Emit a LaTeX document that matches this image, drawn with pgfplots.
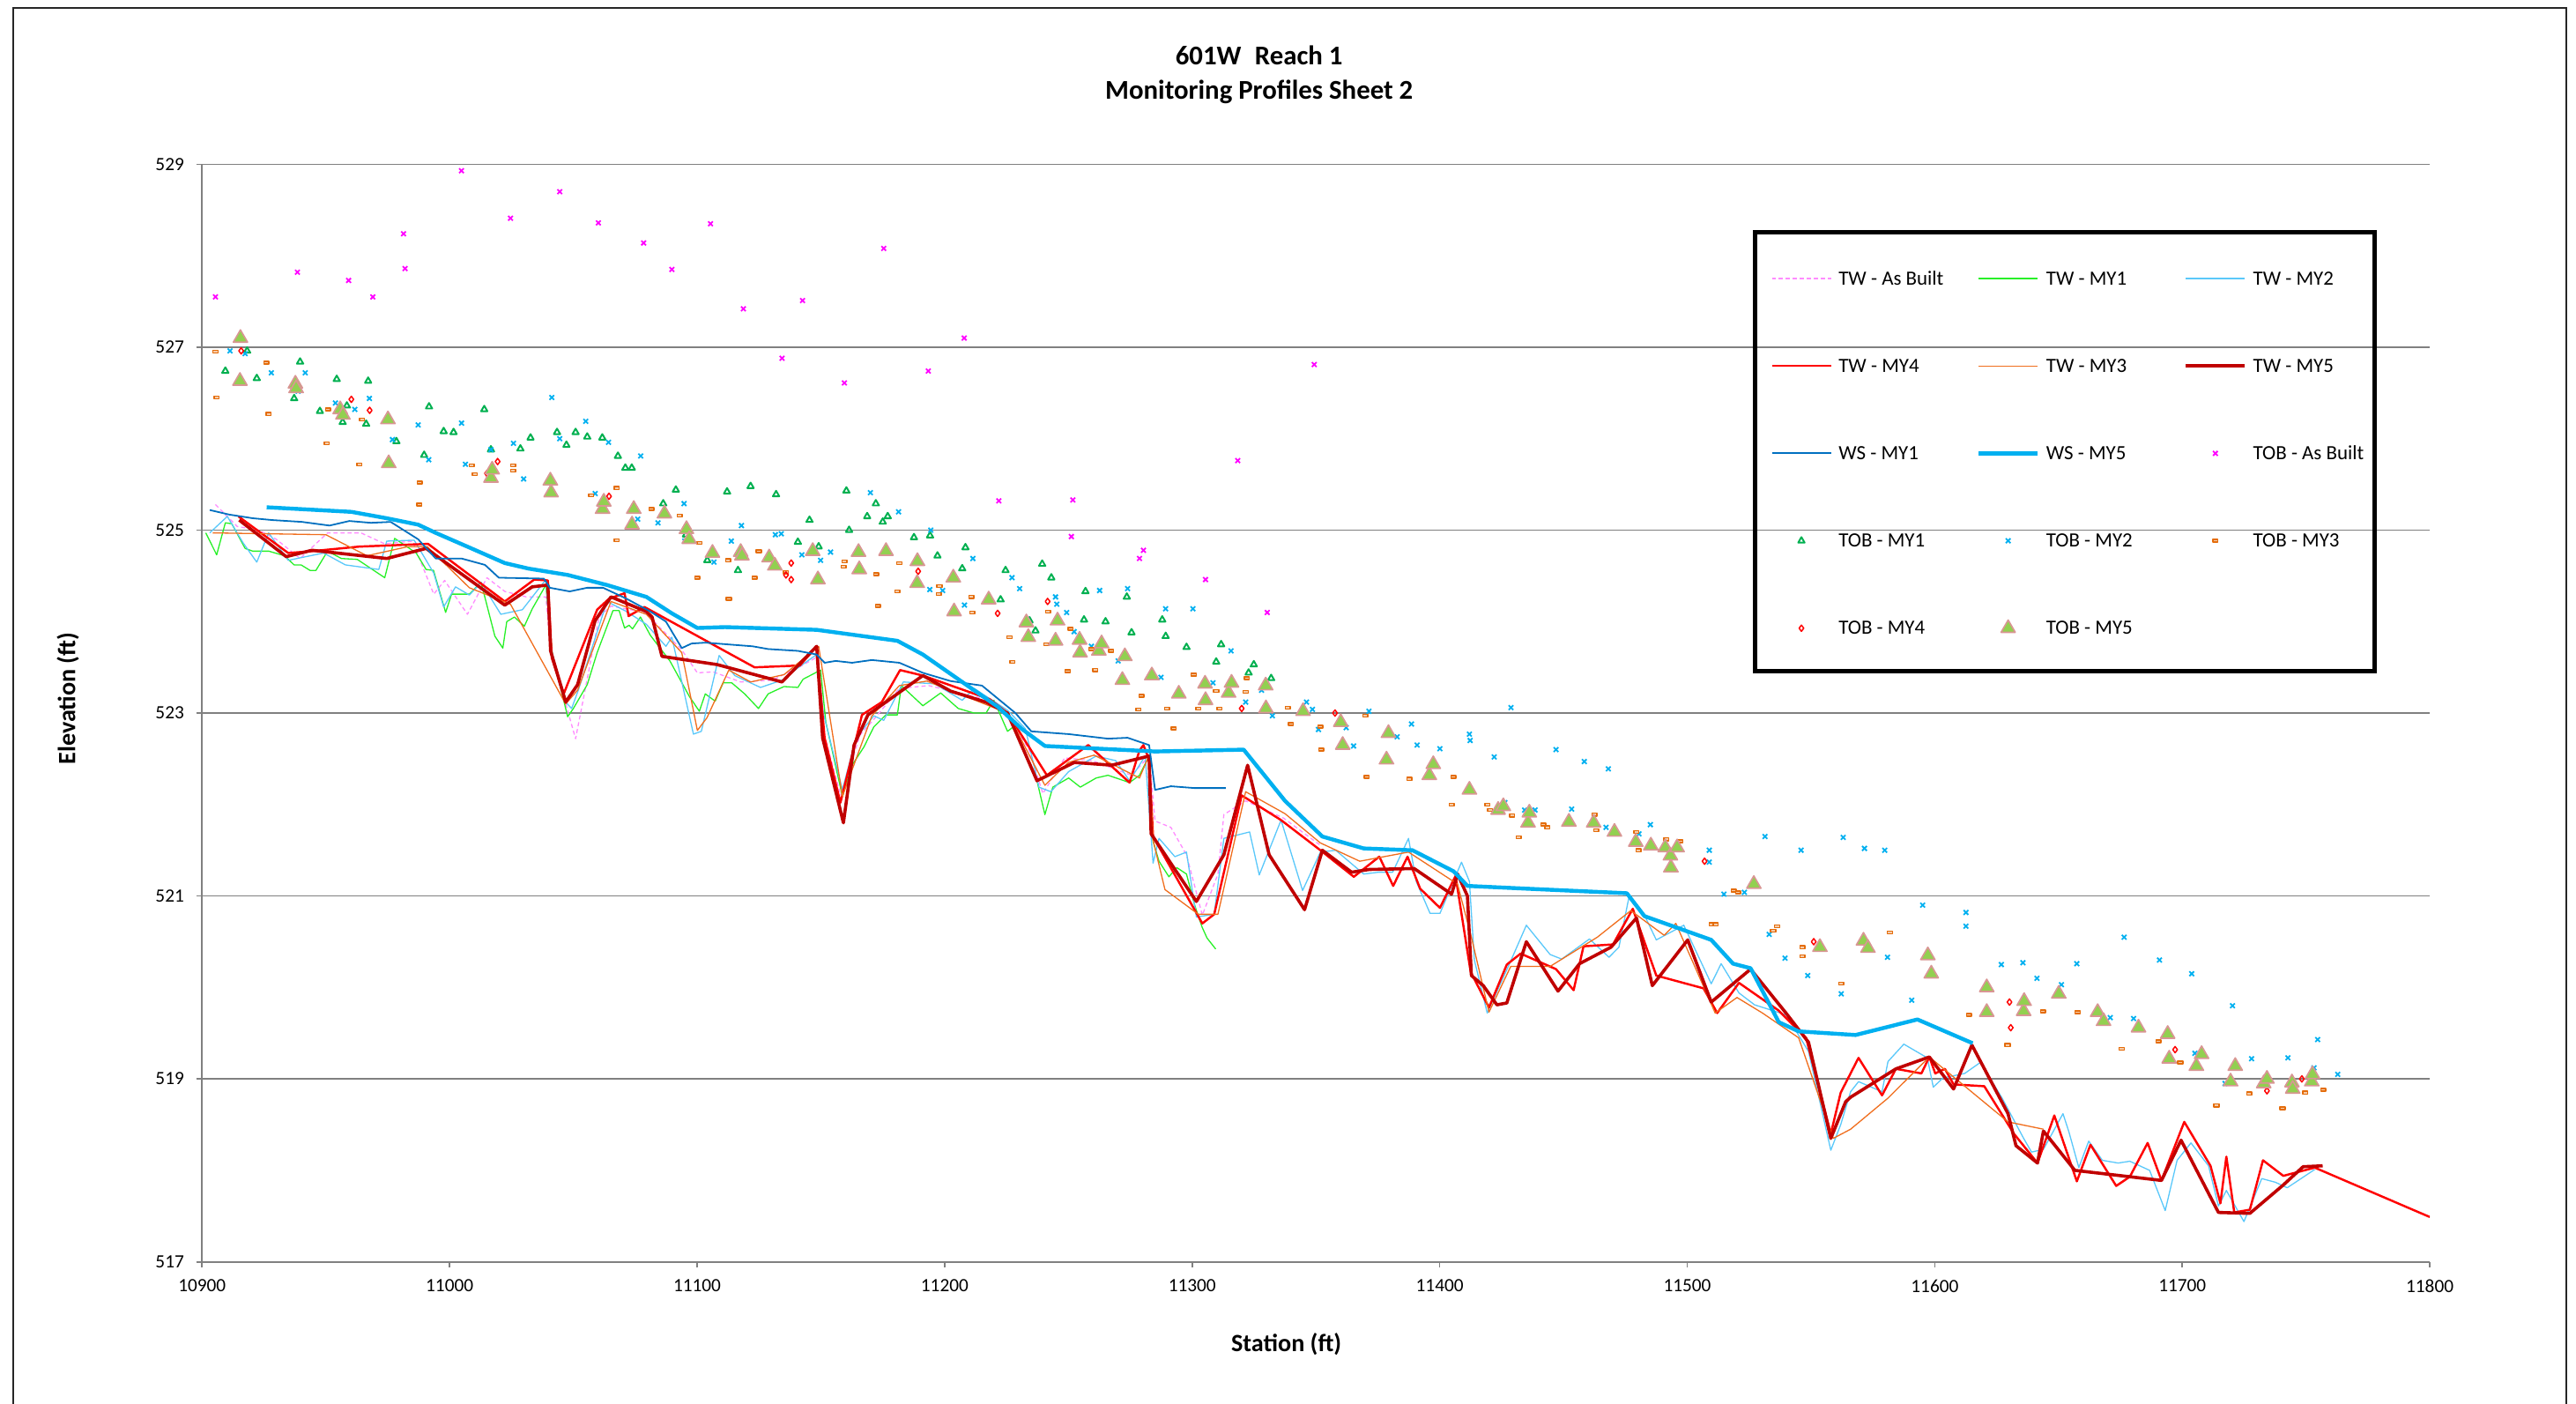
\documentclass[border=0pt]{standalone}
\usepackage{pgfplots}
\pgfplotsset{compat=1.18}
\usepackage{fontspec}
\setmainfont{Carlito}
\definecolor{cAB}{RGB}{255,140,255}
\definecolor{cMY1}{RGB}{40,240,40}
\definecolor{cMY2}{RGB}{90,200,250}
\definecolor{cMY4}{RGB}{255,0,0}
\definecolor{cMY3}{RGB}{240,110,30}
\definecolor{cMY5}{RGB}{192,0,0}
\definecolor{cWS1}{RGB}{0,112,192}
\definecolor{cWS5}{RGB}{0,176,240}
\definecolor{cTAB}{RGB}{255,0,255}
\definecolor{cT1}{RGB}{0,176,80}
\definecolor{cT2}{RGB}{0,176,240}
\definecolor{cT3}{RGB}{228,108,10}
\definecolor{cT4}{RGB}{255,0,0}
\definecolor{cT5f}{RGB}{146,208,80}
\definecolor{cT5e}{RGB}{217,150,148}
\definecolor{gridc}{RGB}{128,128,128}
\newcommand{\lgA}[1]{\makebox[16.8mm][l]{\strut #1}}
\newcommand{\lgC}[1]{\makebox[12.8mm][l]{\strut #1}}
\begin{document}
\begin{tikzpicture}
\useasboundingbox (-24.6mm,-17.2mm) rectangle (289mm,153.6mm);
\draw[black!85, line width=0.5pt] (-23mm,-20mm) rectangle (287.8mm,152.6mm);
\begin{axis}[
  at={(0,0)}, anchor=south west,
  scale only axis, width=271.2mm, height=133.6mm,
  xmin=10900, xmax=11800, ymin=517, ymax=529,
  axis x line=bottom, axis y line=left,
  axis line style={-, draw=gridc, line width=0.5pt},
  xtick={10900,11000,...,11800}, ytick={517,519,...,529},
  scaled x ticks=false, scaled y ticks=false,
  tick align=outside, major tick length=0.72mm,
  tick style={draw=gridc, line width=0.5pt},
  ymajorgrids, grid style={draw=gridc, line width=0.5pt},
  ticklabel style={font=\fontsize{6.5}{7.5}\selectfont, inner sep=0pt},
  xticklabel style={anchor=north, yshift=-1.4mm, /pgf/number format/fixed, /pgf/number format/precision=0},
  yticklabel style={anchor=east, xshift=-1.4mm},
  /pgf/number format/assume math mode=true,
  /pgf/number format/1000 sep={},
  xlabel={Station (ft)}, ylabel={Elevation (ft)},
  xlabel style={at={(axis description cs:0.48673,-0.07485)}, anchor=center, font=\bfseries\fontsize{8.6}{10}\selectfont},
  ylabel style={at={(axis description cs:-0.06025,0.5133)}, anchor=center, font=\bfseries\fontsize{8.6}{10}\selectfont},
  line join=round,
  legend columns=3,
  legend cell align=left,
  legend style={at={(axis description cs:0.7039,0.9062)}, anchor=north west, draw=none, fill=none,
    inner sep=0pt, font=\fontsize{7}{8.4}\selectfont, row sep=8.05mm,
    nodes={inner sep=0pt},
    /tikz/every odd column/.append style={column sep=0.8mm}},
  legend image code/.code={\draw[mark repeat=2,mark phase=2] plot coordinates {(0mm,0mm) (3.6mm,0mm) (7.2mm,0mm)};},
]
% TW - As Built
\addplot[cAB, line width=0.4pt, dash pattern=on 0.5mm off 0.35mm] coordinates {
(10905.4,525.28) (10914.2,525.04) (10922.9,525.00) (10930,524.90) (10939.6,524.69) (10950.7,524.97)
(10964.2,524.97) (10973.8,524.85) (10985,524.88) (10993.6,524.30) (10998,524.45) (11007.2,524.08)
(11015.1,524.48) (11022.3,524.33) (11031.0,524.27) (11038.9,524.27) (11041,523.65) (11046.9,523.10)
(11050.9,522.72) (11054.0,523.15) (11060.4,524.05) (11065.2,524.17) (11079,524.10) (11093.8,523.69)
(11100.1,523.44) (11106.5,523.45) (11117.6,523.34) (11130.3,523.36) (11141,523.50) (11148.3,523.61)
(11151,522.80) (11158,522.10) (11165.8,522.76) (11172,522.95) (11181.7,523.27) (11193.6,523.30)
(11213.5,523.17) (11225.4,523.00) (11234.2,522.59) (11239.7,522.12) (11248.5,522.51) (11259.6,522.48)
(11275.5,522.32) (11282.6,522.53) (11285.0,521.82) (11291.4,521.75) (11297.7,521.45) (11304.1,520.79)
(11310.4,521.24) (11312.8,521.89) (11321.6,522.04) (11337,521.85) (11352,521.55)
};
\addlegendentry{\lgA{TW - As Built}}
% TW - MY1
\addplot[cMY1, line width=0.4pt] coordinates {
(10901.5,524.97) (10905.9,524.73) (10909.4,525.08) (10912,525.07) (10917.4,524.80) (10920.5,524.77)
(10927,524.77) (10933.3,524.72) (10937.2,524.62) (10940,524.62) (10943.6,524.56) (10946,524.56)
(10950.7,524.77) (10956.3,524.69) (10962.7,524.68) (10973.8,524.48) (10977.8,524.91) (10986.5,524.75)
(10990.5,524.57) (10993.5,524.56) (10998.4,524.10) (11000.8,524.30) (11008,524.30) (11012.7,524.43)
(11018.3,523.84) (11021.5,523.71) (11023.1,524.00) (11026.2,524.05) (11030.2,523.95) (11033.4,524.14)
(11038.9,524.40) (11041.5,523.65) (11047.7,522.96) (11050,523.05) (11055.6,523.31) (11059.6,523.66)
(11066.0,524.12) (11068.5,524.12) (11070.7,523.93) (11072.5,523.96) (11073.9,523.92) (11077.1,524.05)
(11081.1,523.85) (11089.0,523.57) (11096.9,523.18) (11100.9,523.02) (11103.3,523.21) (11107.3,523.13)
(11110.5,523.33) (11114,523.33) (11119.2,523.21) (11124.8,523.05) (11128.7,523.21) (11135.1,523.29)
(11140.7,523.28) (11142.8,523.37) (11149.9,523.47) (11152,522.90) (11158.7,522.09) (11162.6,522.43)
(11167.4,522.63) (11171.4,522.85) (11176.2,522.98) (11180.9,522.98) (11182.5,523.30) (11191.2,523.08)
(11198.4,523.22) (11205.5,523.05) (11211.9,523.00) (11216.7,523.00) (11219.9,523.14) (11225.4,522.80)
(11227.8,522.85) (11237.3,522.26) (11240.5,521.89) (11243.7,522.19) (11250.1,522.29) (11254.8,522.19)
(11261.2,522.29) (11266,522.32) (11274.7,522.24) (11278.7,522.32) (11282.6,522.53) (11284.2,521.60)
(11286.6,521.38) (11290.6,521.21) (11293.8,521.31) (11297.7,521.24) (11301,520.90) (11304,520.66)
(11306,520.54) (11309.5,520.42)
};
\addlegendentry{\lgA{TW - MY1}}
% TW - MY2
\addplot[cMY2, line width=0.4pt] coordinates {
(10903.1,524.97) (10910.2,525.15) (10916.6,524.86) (10922.1,524.65) (10926.9,524.97) (10934.8,524.67)
(10949.1,524.75) (10957.9,524.62) (10971.4,524.57) (10974.6,524.88) (10985.7,524.89) (10993.6,524.53)
(10997.6,524.16) (11002.4,524.38) (11008.0,524.29) (11012.7,524.43) (11020.7,524.08) (11029.4,524.13)
(11038.9,524.46) (11041.0,523.70) (11046.9,523.12) (11049.3,523.05) (11052.0,523.25) (11063.6,524.22)
(11071.5,524.11) (11079.5,523.97) (11087.4,523.73) (11089.8,523.83) (11098.5,522.77) (11101.7,522.80)
(11108.9,523.63) (11115.2,523.41) (11125.6,523.28) (11134.3,523.36) (11141.0,523.50) (11148.3,523.64)
(11151.0,523.00) (11158.7,522.16) (11164.2,522.73) (11171.4,522.97) (11175.4,522.92) (11183.3,523.34)
(11196.0,523.32) (11207.1,523.14) (11211.9,523.27) (11225.4,523.03) (11232.6,522.83) (11238.1,522.19)
(11242.9,522.14) (11250.1,522.36) (11261.2,522.53) (11269.1,522.48) (11274.7,522.26) (11281.0,522.53)
(11284.2,521.36) (11286.6,521.63) (11293.0,521.43) (11297.7,521.48) (11301.7,520.77) (11308.9,520.80)
(11312.8,521.63) (11323.2,521.70) (11327.1,521.23) (11335.9,521.83) (11344.6,521.06) (11351.8,521.48)
(11358,521.50) (11369.3,521.24) (11375.4,521.26) (11381,521.26) (11387.4,521.63) (11390.5,521.16)
(11396.1,520.81) (11400.1,520.81) (11408.8,521.37) (11412.0,521.16) (11414,520.30) (11419.2,519.72)
(11428.7,520.29) (11435.0,520.68) (11444.6,520.36) (11449.3,520.31) (11460.5,520.53) (11468.4,520.33)
(11472.4,520.44) (11476.4,520.98) (11482.7,520.79) (11487.5,520.52) (11498.6,520.68) (11509.7,520.04)
(11513.7,520.26) (11520.9,519.94) (11527.2,519.81) (11540,519.70) (11549,519.30) (11558,518.22)
(11562,518.50) (11566.0,518.86) (11569.2,518.97) (11578.7,518.86) (11581.1,519.19) (11587.5,519.38)
(11597.0,519.23) (11599.4,518.91) (11603.3,519.01) (11612.1,519.06) (11618.4,519.18) (11627.2,518.79)
(11635.9,518.35) (11639.1,518.20) (11643.9,518.23) (11651.8,518.62) (11654.2,518.42) (11658.2,518.03)
(11662.2,518.32) (11667.7,518.11) (11674.1,518.08) (11678.8,518.10) (11686.8,518.00) (11693.1,517.56)
(11697.9,518.11) (11703.5,518.30) (11710.6,518.05) (11714.6,517.61) (11717.8,517.78) (11724.9,517.44)
(11732.1,517.91) (11737.6,517.87) (11742.4,517.81) (11753.5,518.01)
};
\addlegendentry{\lgC{TW - MY2}}
% TW - MY4
\addplot[cMY4, line width=0.75pt] coordinates {
(10914.7,525.15) (10934.8,524.75) (10944.4,524.77) (10963.5,524.82) (10991.3,524.85) (11022.3,524.22)
(11034.2,524.46) (11039.7,524.45) (11041.3,523.60) (11046.1,523.21) (11059.6,524.13) (11064.4,524.25)
(11070.7,524.31) (11072.3,524.06) (11078.7,524.16) (11123.2,523.50) (11141.5,523.52) (11148.3,523.73)
(11151.5,522.73) (11157.9,522.02) (11166.6,522.98) (11174.6,523.12) (11182.0,523.47) (11191.2,523.41)
(11218.3,523.15) (11225.4,523.00) (11241.3,522.32) (11258.0,522.65) (11274.7,522.24) (11278.7,522.59)
(11280.3,522.65) (11282.6,522.49) (11284.2,521.65) (11304.1,520.70) (11308.9,520.80) (11320.0,522.10)
(11335.9,521.83) (11351.8,521.50) (11365.3,521.21) (11375.6,521.43) (11381.2,521.11) (11387.0,521.43)
(11392.1,521.08) (11400.1,520.87) (11406.4,521.22) (11412.5,520.17) (11419.9,519.78) (11427.1,520.25)
(11432.7,520.37) (11447.0,520.20) (11454.1,519.97) (11458.1,520.45) (11470.0,520.47) (11478.0,520.86)
(11487.5,520.13) (11506.6,519.99) (11512.1,519.72) (11520.9,520.05) (11536.8,519.75) (11548,519.45)
(11558,518.40) (11562,518.85) (11569.2,519.23) (11578.7,518.82) (11584.3,519.11) (11594.6,519.06)
(11597.8,519.24) (11600.2,519.06) (11604.1,519.11) (11607.6,518.94) (11620.0,518.92) (11632.0,518.40)
(11641.5,518.08) (11648.3,518.60) (11657.4,517.88) (11662.9,518.28) (11673.3,517.83) (11678.8,517.93)
(11686.0,518.30) (11691.6,517.89) (11700.8,518.53) (11711.4,518.05) (11715.4,517.64) (11717.8,518.15)
(11721.0,517.54) (11727.3,517.57) (11732.6,518.11) (11740.8,517.94) (11753.5,518.03) (11800,517.49)
};
\addlegendentry{\lgA{TW - MY4}}
% TW - MY3
\addplot[cMY3, line width=0.4pt] coordinates {
(10904.3,524.97) (10950,524.95) (10966.6,524.72) (10983.3,524.82) (10991,524.82) (11008.0,524.37)
(11024.6,524.19) (11046.9,523.10) (11051.7,523.25) (11065.2,524.22) (11079.5,524.08) (11093.8,523.66)
(11100.1,522.81) (11104,522.95) (11112.8,523.47) (11121.6,523.34) (11135.1,523.42) (11149.1,523.73)
(11158.7,522.09) (11170.6,522.97) (11181.7,523.30) (11192.8,523.35) (11225.4,523.00) (11240.5,522.21)
(11250.0,522.46) (11260.4,522.54) (11278.7,522.29) (11282.6,522.54) (11284.2,521.61) (11289.0,521.07)
(11302.5,520.80) (11310.4,520.80) (11321.6,522.14) (11337.5,521.90) (11351.8,521.58) (11367.7,521.38)
(11387.4,521.48) (11407.2,521.13) (11412.8,520.55) (11419.9,519.73) (11428.7,520.23) (11444.6,520.23)
(11463.7,520.55) (11477.2,520.84) (11490.7,520.57) (11495.4,520.70) (11511.3,519.72) (11520.1,519.89)
(11530.4,519.72) (11545,519.45) (11559,518.35) (11566,518.45) (11581.1,518.79) (11597.8,519.24)
(11629.6,518.53) (11643.9,518.45)
};
\addlegendentry{\lgA{TW - MY3}}
% TW - MY5
\addplot[cMY5, line width=1.1pt] coordinates {
(10915.0,525.11) (10934.0,524.71) (10944.4,524.78) (10974.6,524.69) (10990.5,524.80) (11022.3,524.18)
(11033.4,524.38) (11039.7,524.40) (11040.8,523.68) (11046.9,523.12) (11051.7,523.31) (11058.8,524.01)
(11065.2,524.27) (11079.5,524.11) (11081.8,524.05) (11085.8,523.62) (11108.1,523.53) (11134.3,523.34)
(11148.3,523.73) (11150.7,522.73) (11159.1,521.80) (11163.4,522.65) (11169.0,522.98) (11191.2,523.41)
(11202.4,523.24) (11216.7,523.12) (11225.4,523.00) (11237.3,522.26) (11252.4,522.46) (11267.5,522.43)
(11282.6,522.53) (11283.4,521.68) (11301.7,520.94) (11312.8,521.45) (11322.4,522.43) (11331.1,521.45)
(11345.4,520.85) (11352.6,521.50) (11364.4,521.26) (11371.5,521.29) (11389.7,521.30) (11404.8,521.02)
(11407.2,521.24) (11411.2,521.00) (11412.8,520.13) (11417.6,520.02) (11423.1,519.81) (11427.1,519.83)
(11435.0,520.50) (11447.8,519.96) (11456.5,520.26) (11469.2,520.44) (11479.5,520.76) (11485.9,520.02)
(11500.2,520.52) (11509.7,519.84) (11525.6,520.20) (11539.9,519.72) (11549,519.40) (11558,518.35)
(11564,518.75) (11566,518.80) (11584.3,519.11) (11597.8,519.24) (11607.6,518.89) (11615.0,519.37)
(11629.6,518.62) (11632.8,518.27) (11641.5,518.08) (11643.9,518.43) (11656.6,518.00) (11691.6,517.89)
(11699.5,518.33) (11714.6,517.54) (11727.3,517.53) (11740.8,517.84) (11748.8,518.04) (11756.7,518.05)
};
\addlegendentry{\lgC{TW - MY5}}
% WS - MY1
\addplot[cWS1, line width=0.55pt] coordinates {
(10903.1,525.22) (10911.0,525.17) (10920.5,525.13) (10928.5,525.11) (10940.4,525.09) (10951.5,525.05)
(10959.5,525.10) (10968.2,525.08) (10976.2,525.09) (10987.3,524.90) (10994.4,524.69) (11004.8,524.69)
(11014.3,524.62) (11019.9,524.48) (11038.1,524.47) (11040.5,524.37) (11048.5,524.33) (11055.6,524.37)
(11062.0,524.37) (11071.5,524.25) (11081.1,524.11) (11087.4,524.00) (11093.8,523.71) (11097.7,523.76)
(11103.3,523.77) (11122.4,523.73) (11128.7,523.70) (11140.7,523.68) (11148.3,523.64) (11151.5,523.55)
(11156,523.57) (11162.6,523.55) (11170.6,523.58) (11181.7,523.55) (11191.2,523.44) (11202.4,523.35)
(11215.1,523.30) (11228.6,523.00) (11235.0,522.80) (11250.1,522.77) (11266.0,522.72) (11273.9,522.73)
(11282.6,522.65) (11285.0,522.16) (11291.4,522.20) (11301.0,522.18) (11313.6,522.18)
};
\addlegendentry{\lgA{WS - MY1}}
% WS - MY5
\addplot[cWS5, line width=1.35pt] coordinates {
(10926.1,525.25) (10960.3,525.20) (10974.6,525.13) (10987.3,525.06) (10994.4,524.97) (11008.0,524.81)
(11022.3,524.64) (11031.8,524.58) (11047.7,524.51) (11063.6,524.40) (11079.5,524.27) (11089.8,524.09)
(11100.1,523.93) (11111.2,523.94) (11148.3,523.91) (11180.9,523.79) (11191.2,523.64) (11205.5,523.37)
(11221.4,523.07) (11231.0,522.83) (11240.5,522.64) (11285.0,522.58) (11320.8,522.60) (11337.5,522.04)
(11352.6,521.65) (11369.3,521.52) (11389.0,521.50) (11405.6,521.27) (11411.2,521.11) (11435.0,521.08)
(11475.6,521.03) (11482.7,520.78) (11509.7,520.52) (11518.5,520.26) (11525.6,520.21) (11537,519.62)
(11545.0,519.52) (11568.0,519.48) (11593.0,519.65) (11615.3,519.39)
};
\addlegendentry{\lgA{WS - MY5}}
% TOB - As Built
\addplot[only marks, mark=x, mark size=0.4mm, mark options={cTAB, line width=0.55pt}] coordinates {
(10905.4,527.55) (10938.5,527.82) (10959.2,527.73) (10969.0,527.55) (10981.4,528.24) (10982.0,527.86)
(11004.8,528.93) (11024.6,528.41) (11044.5,528.70) (11060.1,528.36) (11078.4,528.14) (11089.8,527.85)
(11105.4,528.35) (11118.7,527.42) (11134.3,526.88) (11142.6,527.51) (11159.5,526.61) (11175.4,528.08)
(11193.4,526.74) (11207.9,527.10) (11221.9,525.32) (11251.8,525.33) (11251.2,524.93) (11280.3,524.78)
(11278.7,524.69) (11305.4,524.46) (11318.4,525.76) (11330.3,524.10) (11349.3,526.81)
};
\addlegendentry{\lgC{TOB - As Built}}
% TOB - MY1
\addplot[only marks, mark=triangle, mark size=0.45mm, mark options={cT1, line width=0.6pt}] coordinates {
(10909.4,526.74) (10918.2,526.96) (10922.1,526.66) (10937.2,526.44) (10939.6,526.84) (10947.6,526.30)
(10954.4,526.65) (10956.8,526.18) (10958.5,526.36) (10966.3,526.16) (10967.1,526.63) (10978.5,525.97)
(10989.7,525.82) (10991.7,526.35) (10997.6,526.08) (11001.6,526.07) (11014.0,526.32) (11016.7,525.88)
(11028.6,525.89) (11032.7,526.01) (11043.4,526.07) (11047.2,525.93) (11050.9,526.07) (11055.6,526.02)
(11061.7,526.01) (11068.0,525.81) (11071.0,525.68) (11073.6,525.68) (11086.3,525.29) (11091.4,525.44)
(11095.5,524.95) (11104.1,524.67) (11112.1,525.42) (11116.5,524.56) (11121.6,525.48) (11131.9,525.39)
(11140.7,524.87) (11145.4,525.11) (11149.1,524.82) (11160.3,525.43) (11161.4,525.00) (11168.7,525.15)
(11172.2,525.29) (11175.0,525.09) (11177.0,525.15) (11187.6,524.92) (11194.1,524.94) (11197.1,524.72)
(11207.1,524.58) (11208.4,524.81) (11222.6,524.24) (11224.6,524.56) (11234.3,524.01) (11236.7,523.90)
(11239.4,524.63) (11243.1,524.48) (11256.3,524.02) (11256.9,524.33) (11265.0,524.00) (11273.6,524.27)
(11275.5,523.88) (11287.9,524.02) (11289.3,523.84) (11297.7,523.72) (11309.7,523.56) (11311.7,523.75)
(11322.8,523.44) (11324.9,523.53) (11331.9,523.38)
};
\addlegendentry{\lgA{TOB - MY1}}
% TOB - MY2
\addplot[only marks, mark=x, mark size=0.4mm, mark options={cT2, line width=0.55pt}] coordinates {
(10911.3,526.96) (10917.4,526.93) (10928.0,526.72) (10938.8,526.52) (10941.7,526.72) (10953.9,526.39)
(10961.7,526.32) (10967.6,526.44) (10976.9,525.99) (10987.3,526.15) (10991.6,525.77) (11004.8,526.17)
(11006.4,525.72) (11016.7,525.88) (11025.8,525.95) (11029.9,525.56) (11041.3,526.45) (11044.5,526.00)
(11055.0,526.19) (11058.8,525.40) (11064.2,525.96) (11076.0,525.12) (11077.2,525.81) (11084.2,525.08)
(11094.7,525.29) (11095.0,524.88) (11106.8,524.65) (11113.8,524.88) (11117.9,525.05) (11131.6,524.95)
(11134.0,524.96) (11142.3,524.73) (11149.9,524.67) (11153.9,524.76) (11170.0,525.41) (11181.4,525.20)
(11194.4,525.00) (11194.0,524.35) (11199.2,524.34) (11208.0,524.18) (11211.4,524.69) (11227.2,524.48)
(11230.3,524.36) (11244.8,524.27) (11245.3,524.19) (11249.3,524.10) (11252.3,523.89) (11259.3,523.73)
(11262.6,524.34) (11270.1,523.57) (11273.9,524.36) (11287.4,523.39) (11289.3,524.14) (11300.3,524.14)
(11308.4,523.33) (11315.7,523.68) (11321.6,523.12) (11328.0,523.25) (11332.4,522.97) (11346.2,523.12)
(11348.6,523.04) (11351.0,522.82) (11362.2,522.84) (11365.2,522.64) (11371.4,523.02) (11382.8,522.74)
(11388.6,522.88) (11390.9,522.65) (11400.1,522.61) (11412.0,522.77) (11412.3,522.70) (11422.0,522.52)
(11426.3,522.02) (11428.8,523.06) (11434.3,521.94) (11438.5,521.94) (11447.0,522.60) (11453.3,521.95)
(11458.4,522.47) (11467.2,521.75) (11468.1,522.39) (11480.5,521.68) (11485.1,521.78) (11508.9,521.50)
(11508.9,521.37) (11514.8,521.02) (11523.1,521.04) (11531.4,521.65) (11533.1,520.58) (11539.5,520.32)
(11546.0,521.50) (11548.7,520.13) (11562.2,519.93) (11563.0,521.64) (11571.6,521.52) (11579.8,521.50)
(11580.9,520.33) (11590.7,519.86) (11595.1,520.90) (11612.6,520.82) (11612.6,520.67) (11626.9,520.25)
(11635.6,520.27) (11641.3,520.10) (11651.2,520.03) (11657.4,520.26) (11670.9,519.67) (11676.5,520.55)
(11680.3,519.66) (11690.8,520.30) (11703.8,520.15) (11705.1,519.28) (11717.3,518.95) (11720.3,519.80)
(11728.0,519.22) (11742.7,519.23) (11753.2,519.12) (11754.7,519.43) (11762.8,519.05)
};
\addlegendentry{\lgA{TOB - MY2}}
% TOB - MY3
\addplot[only marks, mark=square*, mark size=0.3mm, mark options={yscale=0.55, draw=cT3, fill=cT3!35, line width=0.45pt}] coordinates {
(10905.4,526.95) (10905.8,526.45) (10925.9,526.83) (10926.9,526.27) (10950.4,525.95) (10950.9,526.32)
(10963.5,525.72) (10964.6,526.21) (10987.8,525.28) (10987.9,525.52) (11008.9,525.71) (11010.2,525.61)
(11025.6,525.71) (11025.6,525.65) (11057.2,525.38) (11067.5,525.46) (11067.5,524.89) (11081.5,525.23)
(11093.0,525.16) (11100.1,524.48) (11100.9,524.86) (11112.5,524.67) (11112.8,524.25) (11123.2,524.48)
(11124.9,524.77) (11135.9,524.54) (11159.2,524.60) (11159.5,524.66) (11172.3,524.52) (11173.0,524.17)
(11180.9,524.33) (11181.7,524.64) (11197.6,524.30) (11197.9,524.39) (11210.8,524.27) (11211.1,524.10)
(11226.2,523.83) (11227.3,523.56) (11241.0,523.75) (11241.8,524.11) (11249.7,523.46) (11250.8,523.92)
(11259.3,523.70) (11260.9,523.47) (11267.2,523.68) (11278.3,523.04) (11279.5,523.19) (11289.8,523.05)
(11292.5,522.83) (11300.6,523.42) (11302.5,523.05) (11309.7,523.24) (11311.0,523.05) (11321.6,523.23)
(11322.1,523.38) (11338.6,523.06) (11339.9,522.88) (11351.8,522.85) (11352.1,522.60) (11370.0,522.97)
(11370.5,522.30) (11387.7,522.28) (11404.8,522.00) (11405.6,522.30) (11419.2,522.00) (11420.4,521.94)
(11429.2,521.88) (11431.9,521.64) (11441.9,521.78) (11443.5,521.75) (11462.5,521.89) (11463.2,521.72)
(11479.5,521.70) (11480.3,521.50) (11491.6,521.62) (11497.2,521.60) (11509.9,520.69) (11511.5,520.69)
(11518.8,521.06) (11520.6,521.04) (11534.7,520.62) (11536.3,520.67) (11546.5,520.44) (11546.5,520.34)
(11562.2,520.04) (11581.9,520.60) (11613.8,519.70) (11629.4,519.37) (11643.7,519.74) (11657.7,519.73)
(11675.5,519.33) (11690.4,519.41) (11699.2,519.18) (11713.8,518.71) (11727.0,518.84) (11740.5,518.68)
(11749.6,518.85) (11756.9,518.88)
};
\addlegendentry{\lgC{TOB - MY3}}
% TOB - MY4
\addplot[only marks, mark=diamond, mark size=0.38mm, mark options={cT4, fill=white, line width=0.45pt}] coordinates {
(10915.8,526.96) (10960.3,526.43) (10967.7,526.31) (11015.1,525.62) (11019.4,525.75) (11064.4,525.37)
(11135.9,524.51) (11138.0,524.46) (11138.0,524.64) (11189.3,524.55) (11221.4,524.09) (11241.6,524.22)
(11320.0,523.05) (11357.7,523.00) (11507.0,521.38) (11551.1,520.50) (11630.2,519.84) (11630.7,519.56)
(11697.1,519.32) (11734.2,518.87) (11748.3,519.00)
};
\addlegendentry{\lgA{TOB - MY4}}
% TOB - MY5
\addplot[only marks, mark=triangle*, mark size=1.0mm, mark options={draw=cT5e, fill=cT5f, line width=0.5pt}] coordinates {
(10915.5,527.10) (10915.3,526.63) (10937.7,526.60) (10938.0,526.55) (10955.8,526.32) (10956.9,526.26)
(10975.1,526.21) (10975.4,525.73) (11016.7,525.57) (11017.2,525.66) (11040.7,525.54) (11041.0,525.41)
(11061.8,525.23) (11062.3,525.31) (11073.7,525.06) (11074.4,525.23) (11086.8,525.18) (11095.7,525.01)
(11096.8,524.90) (11106.2,524.75) (11117.6,524.76) (11118.1,524.72) (11129.1,524.70) (11131.4,524.61)
(11146.7,524.77) (11148.8,524.46) (11165.2,524.76) (11165.5,524.57) (11176.3,524.77) (11188.9,524.42)
(11189.0,524.66) (11203.5,524.48) (11203.8,524.11) (11217.8,524.24) (11233.0,523.99) (11233.8,523.83)
(11244.8,523.79) (11245.6,524.01) (11254.5,523.80) (11254.7,523.66) (11262.3,523.68) (11263.4,523.76)
(11271.8,523.36) (11272.8,523.62) (11283.7,523.41) (11294.6,523.21) (11305.2,523.32) (11305.4,523.14)
(11314.7,523.22) (11315.9,523.33) (11329.7,523.30) (11329.8,523.05) (11344.8,523.02) (11360.0,522.90)
(11360.8,522.65) (11378.5,522.49) (11379.3,522.78) (11395.8,522.32) (11397.4,522.44) (11412.0,522.16)
(11423.6,521.94) (11425.7,521.98) (11435.7,521.80) (11436.2,521.91) (11452.2,521.81) (11462.2,521.80)
(11470.6,521.70) (11479.2,521.59) (11485.3,521.55) (11491.1,521.53) (11493.2,521.44) (11493.4,521.31)
(11495.9,521.53) (11526.9,521.13) (11553.6,520.44) (11571.2,520.51) (11573.0,520.43) (11597.2,520.35)
(11598.6,520.15) (11621.0,520.00) (11621.0,519.73) (11635.9,519.74) (11636.1,519.85) (11650.1,519.93)
(11665.8,519.73) (11668.2,519.63) (11682.3,519.56) (11694.1,519.49) (11694.7,519.22) (11705.7,519.14)
(11707.8,519.27) (11719.5,518.97) (11721.4,519.14) (11732.9,518.95) (11734.2,519.00) (11744.3,518.96)
(11744.6,518.89) (11752.3,518.97) (11752.6,519.05)
};
\addlegendentry{\lgA{TOB - MY5}}
\end{axis}
\draw[black, line width=1.5pt] (189.1mm,71.9mm) rectangle (264.5mm,125.3mm);
\node[font=\bfseries\fontsize{9.4}{11}\selectfont, anchor=base] at (128.68mm,145.74mm) {601W\hspace{0.5em}Reach 1};
\node[font=\bfseries\fontsize{9.4}{11}\selectfont, anchor=base] at (128.68mm,141.52mm) {Monitoring Profiles Sheet 2};
\end{tikzpicture}
\end{document}
